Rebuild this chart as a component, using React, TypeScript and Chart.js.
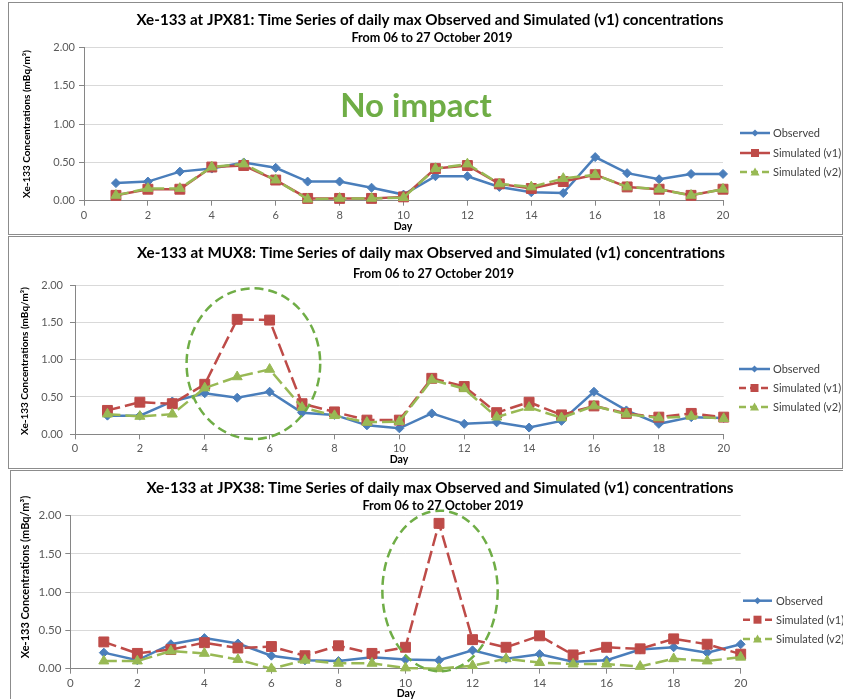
import React, { useEffect, useRef } from "react";
import { Chart, registerables } from "chart.js";

Chart.register(...registerables);

// ---------------- DATA ----------------
const days = [1, 2, 3, 4, 5, 6, 7, 8, 9, 10, 11, 12, 13, 14, 15, 16, 17, 18, 19, 20];
const seriesNames = ["Observed", "Simulated (v1)", "Simulated (v2)"];
const subtitleText = "From 06 to 27 October 2019";
const xAxisLabel = "Day";
const yAxisLabel = "Xe-133 Concentrations (mBq/m\u00B3)";

const jpx81Observed = [0.23, 0.25, 0.38, 0.42, 0.5, 0.43, 0.25, 0.25, 0.17, 0.08, 0.32, 0.32, 0.18, 0.11, 0.1, 0.57, 0.36, 0.28, 0.35, 0.35];
const jpx81SimV1 = [0.07, 0.15, 0.15, 0.44, 0.46, 0.27, 0.03, 0.03, 0.03, 0.05, 0.42, 0.46, 0.22, 0.16, 0.25, 0.34, 0.18, 0.15, 0.07, 0.15];
const jpx81SimV2 = [0.07, 0.16, 0.16, 0.44, 0.48, 0.27, 0.02, 0.03, 0.03, 0.04, 0.42, 0.48, 0.22, 0.18, 0.29, 0.34, 0.18, 0.15, 0.07, 0.15];

const mux8Observed = [0.25, 0.25, 0.44, 0.55, 0.49, 0.57, 0.29, 0.26, 0.12, 0.08, 0.28, 0.14, 0.16, 0.09, 0.18, 0.57, 0.32, 0.14, 0.23, 0.22];
const mux8SimV1 = [0.32, 0.43, 0.41, 0.67, 1.54, 1.53, 0.41, 0.3, 0.19, 0.19, 0.75, 0.64, 0.29, 0.43, 0.26, 0.38, 0.28, 0.23, 0.28, 0.23];
const mux8SimV2 = [0.27, 0.24, 0.27, 0.62, 0.77, 0.87, 0.36, 0.25, 0.16, 0.17, 0.73, 0.61, 0.23, 0.36, 0.22, 0.38, 0.27, 0.22, 0.24, 0.21];

const jpx38Observed = [0.21, 0.11, 0.32, 0.4, 0.33, 0.17, 0.11, 0.1, 0.15, 0.12, 0.11, 0.24, 0.13, 0.19, 0.09, 0.11, 0.25, 0.28, 0.21, 0.32];
const jpx38SimV1 = [0.35, 0.2, 0.25, 0.34, 0.27, 0.29, 0.17, 0.3, 0.2, 0.28, 1.9, 0.38, 0.28, 0.43, 0.18, 0.28, 0.26, 0.39, 0.32, 0.19];
const jpx38SimV2 = [0.1, 0.1, 0.23, 0.2, 0.12, 0.0, 0.11, 0.07, 0.07, 0.01, 0.0, 0.04, 0.13, 0.08, 0.06, 0.06, 0.03, 0.13, 0.1, 0.15];

// ---------------- STYLE / LAYOUT ----------------
const FONT = "Lato, 'Open Sans', 'DejaVu Sans', sans-serif";
const BLUE = "#4A7EBB";
const RED = "#BE4B48";
const GREEN = "#98B954";
const HILITE = "#6FAD46";
const AXIS = "#868686";
const GRID = "#D9D9D9";

type Ellipse = { cx: number; cy: number; rx: number; ry: number };
type PanelCfg = {
  key: string;
  title: string;
  obs: number[];
  v1: number[];
  v2: number[];
  v1Dashed: boolean;
  box: { left: number; top: number; w: number; h: number };
  plot: { left: number; right: number; top: number; bottom: number };
  titleXY: [number, number];
  subXY: [number, number];
  legend: { x1: number; x2: number; tx: number; rows: number[] };
  dayXY: [number, number];
  yTitle: { x: number; y: number; size: number };
  tickSize: number;
  yTickPad: number;
  ellipse?: Ellipse;
  note?: { text: string; x: number; y: number };
};

const panels: PanelCfg[] = [
  {
    key: "jpx81",
    title: "Xe-133 at JPX81: Time Series of daily max Observed and Simulated (v1) concentrations",
    obs: jpx81Observed,
    v1: jpx81SimV1,
    v2: jpx81SimV2,
    v1Dashed: false,
    box: { left: 8, top: 2, w: 835, h: 233 },
    plot: { left: 84, right: 723, top: 47.7, bottom: 200.7 },
    titleXY: [430, 20],
    subXY: [432, 38],
    legend: { x1: 740, x2: 770, tx: 773, rows: [133, 153, 172] },
    dayXY: [403, 227],
    yTitle: { x: 27, y: 124, size: 10 },
    tickSize: 11,
    yTickPad: 4,
    note: { text: "No impact", x: 416, y: 106 },
  },
  {
    key: "mux8",
    title: "Xe-133 at MUX8: Time Series of daily max Observed and Simulated (v1) concentrations",
    obs: mux8Observed,
    v1: mux8SimV1,
    v2: mux8SimV2,
    v1Dashed: true,
    box: { left: 8, top: 236, w: 835, h: 233 },
    plot: { left: 75, right: 723.7, top: 285, bottom: 434.3 },
    titleXY: [431, 253],
    subXY: [433.5, 274],
    legend: { x1: 739, x2: 770, tx: 773, rows: [369, 388, 407] },
    dayXY: [399, 460],
    yTitle: { x: 25, y: 361, size: 10 },
    tickSize: 11,
    yTickPad: 7,
    ellipse: { cx: 5.5, cy: 0.946, rx: 2.06, ry: 1.01 },
  },
  {
    key: "jpx38",
    title: "Xe-133 at JPX38: Time Series of daily max Observed and Simulated (v1) concentrations",
    obs: jpx38Observed,
    v1: jpx38SimV1,
    v2: jpx38SimV2,
    v1Dashed: true,
    box: { left: 10, top: 470, w: 850, h: 240 },
    plot: { left: 70.3, right: 740.7, top: 515.7, bottom: 668.7 },
    titleXY: [440, 488],
    subXY: [443, 506],
    legend: { x1: 743, x2: 772, tx: 776, rows: [600.7, 619.7, 639] },
    dayXY: [406, 694],
    yTitle: { x: 25, y: 577, size: 11 },
    tickSize: 11.5,
    yTickPad: 4,
    ellipse: { cx: 11.03, cy: 1.016, rx: 1.72, ry: 1.05 },
  },
];

const DASH = [13, 5];

function drawMarker(ctx: CanvasRenderingContext2D, kind: string, x: number, y: number, color: string) {
  ctx.save();
  ctx.setLineDash([]);
  ctx.fillStyle = color;
  ctx.beginPath();
  if (kind === "diamond") {
    const r = 3.5;
    ctx.moveTo(x, y - r);
    ctx.lineTo(x + r, y);
    ctx.lineTo(x, y + r);
    ctx.lineTo(x - r, y);
  } else if (kind === "square") {
    const r = 4;
    ctx.rect(x - r, y - r, 2 * r, 2 * r);
  } else {
    const r = 4.5;
    ctx.moveTo(x, y - r);
    ctx.lineTo(x + r, y + r * 0.75);
    ctx.lineTo(x - r, y + r * 0.75);
  }
  ctx.closePath();
  ctx.fill();
  ctx.restore();
}

function makeOverlay(p: PanelCfg) {
  const ox = p.box.left + 1;
  const oy = p.box.top + 1;
  return {
    id: "overlay_" + p.key,
    afterDatasetsDraw(chart: any) {
      if (!p.ellipse) return;
      const xs = chart.scales.x;
      const ys = chart.scales.y;
      const cx = xs.getPixelForValue(p.ellipse.cx);
      const cy = ys.getPixelForValue(p.ellipse.cy);
      const rx = xs.getPixelForValue(p.ellipse.cx + p.ellipse.rx) - cx;
      const ry = cy - ys.getPixelForValue(p.ellipse.cy + p.ellipse.ry);
      const ctx = chart.ctx as CanvasRenderingContext2D;
      ctx.save();
      ctx.strokeStyle = HILITE;
      ctx.lineWidth = 2.5;
      ctx.setLineDash([9, 5]);
      ctx.beginPath();
      ctx.ellipse(cx, cy, rx, ry, 0, 0, Math.PI * 2);
      ctx.stroke();
      ctx.restore();
    },
    afterDraw(chart: any) {
      const ctx = chart.ctx as CanvasRenderingContext2D;
      ctx.save();
      ctx.textAlign = "center";
      ctx.textBaseline = "middle";
      ctx.fillStyle = "#000000";
      ctx.font = `bold 15.2px ${FONT}`;
      ctx.fillText(p.title, p.titleXY[0] - ox, p.titleXY[1] - oy);
      ctx.font = `bold 12.6px ${FONT}`;
      ctx.fillText(subtitleText, p.subXY[0] - ox, p.subXY[1] - oy);
      ctx.font = `bold 10.5px ${FONT}`;
      ctx.fillText(xAxisLabel, p.dayXY[0] - ox, p.dayXY[1] - oy);
      // y title
      ctx.save();
      ctx.translate(p.yTitle.x - ox, p.yTitle.y - oy);
      ctx.rotate(-Math.PI / 2);
      ctx.font = `bold ${p.yTitle.size}px ${FONT}`;
      ctx.fillText(yAxisLabel, 0, 0);
      ctx.restore();
      // note
      if (p.note) {
        ctx.font = `bold 33px ${FONT}`;
        ctx.fillStyle = HILITE;
        ctx.fillText(p.note.text, p.note.x - ox, p.note.y - oy);
      }
      // legend
      const colors = [BLUE, RED, GREEN];
      const kinds = ["diamond", "square", "triangle"];
      const dashed = [false, p.v1Dashed, true];
      ctx.textAlign = "left";
      ctx.font = `11px ${FONT}`;
      for (let i = 0; i < 3; i++) {
        const y = p.legend.rows[i] - oy;
        const x1 = p.legend.x1 - ox;
        const x2 = p.legend.x2 - ox;
        ctx.save();
        ctx.strokeStyle = colors[i];
        ctx.lineWidth = 2.5;
        ctx.setLineDash(dashed[i] ? [7, 4] : []);
        ctx.beginPath();
        ctx.moveTo(x1, y);
        ctx.lineTo(x2, y);
        ctx.stroke();
        ctx.restore();
        drawMarker(ctx, kinds[i], (x1 + x2) / 2, y, colors[i]);
        ctx.fillStyle = "#404040";
        ctx.fillText(seriesNames[i], p.legend.tx - ox, y + 0.5);
      }
      ctx.restore();
    },
  };
}

function PanelChart({ p }: { p: PanelCfg }) {
  const ref = useRef<HTMLCanvasElement | null>(null);
  const innerW = p.box.w - 2;
  const innerH = p.box.h - 2;
  useEffect(() => {
    if (!ref.current) return;
    const ox = p.box.left + 1;
    const oy = p.box.top + 1;
    const yWidth = p.plot.left - ox;
    const padTop = p.plot.top - oy;
    const padRight = innerW - (p.plot.right - ox);
    const xHeight = innerH - (p.plot.bottom - oy);
    const mk = (label: string, data: number[], color: string, style: string, radius: number, dashed: boolean, order: number) => ({
      label,
      data: days.map((d, i) => ({ x: d, y: data[i] })),
      borderColor: color,
      backgroundColor: color,
      pointBackgroundColor: color,
      pointBorderColor: color,
      pointStyle: style,
      pointRadius: radius,
      pointBorderWidth: 1,
      borderWidth: 2.5,
      borderDash: dashed ? DASH : [],
      tension: 0,
      fill: false,
      order,
    });
    const chart = new Chart(ref.current, {
      type: "line",
      data: {
        datasets: [
          mk(seriesNames[0], p.obs, BLUE, "rectRot", 4.5, false, 2),
          mk(seriesNames[1], p.v1, RED, "rect", 7, p.v1Dashed, 1),
          mk(seriesNames[2], p.v2, GREEN, "triangle", 5.8, true, 0),
        ] as any,
      },
      options: {
        responsive: false,
        animation: false,
        events: [],
        clip: false as any,
        layout: { padding: { left: 0, top: padTop, right: padRight, bottom: 0 } },
        plugins: { legend: { display: false }, title: { display: false }, tooltip: { enabled: false } },
        scales: {
          x: {
            type: "linear",
            min: 0,
            max: 20,
            afterFit: (s: any) => {
              s.height = xHeight;
            },
            ticks: {
              stepSize: 2,
              autoSkip: false,
              maxRotation: 0,
              padding: 3,
              color: "#595959",
              font: { family: FONT, size: p.tickSize },
            },
            grid: { display: true, drawOnChartArea: false, drawTicks: true, tickLength: 5, tickColor: AXIS },
            border: { display: true, color: AXIS, width: 1 },
          },
          y: {
            type: "linear",
            min: 0,
            max: 2,
            afterFit: (s: any) => {
              s.width = yWidth;
            },
            ticks: {
              stepSize: 0.5,
              padding: p.yTickPad,
              color: "#595959",
              font: { family: FONT, size: p.tickSize },
              callback: (v: any) => Number(v).toFixed(2),
            },
            grid: { color: GRID, lineWidth: 1, drawTicks: true, tickLength: 5, tickColor: AXIS },
            border: { display: true, color: AXIS, width: 1 },
          },
        },
      } as any,
      plugins: [makeOverlay(p)],
    });
    return () => chart.destroy();
  }, []);
  return (
    <div
      style={{
        position: "absolute",
        left: p.box.left,
        top: p.box.top,
        width: innerW,
        height: innerH,
        border: "1px solid #8C8C8C",
        background: "#FFFFFF",
      }}
    >
      <canvas ref={ref} width={innerW} height={innerH} style={{ display: "block", width: innerW, height: innerH }} />
    </div>
  );
}

export default function App() {
  return (
    <div
      style={{
        position: "absolute",
        left: 0,
        top: 0,
        width: 843,
        height: 699,
        overflow: "hidden",
        background: "#FFFFFF",
      }}
    >
      {panels.map((p) => (
        <PanelChart key={p.key} p={p} />
      ))}
    </div>
  );
}
